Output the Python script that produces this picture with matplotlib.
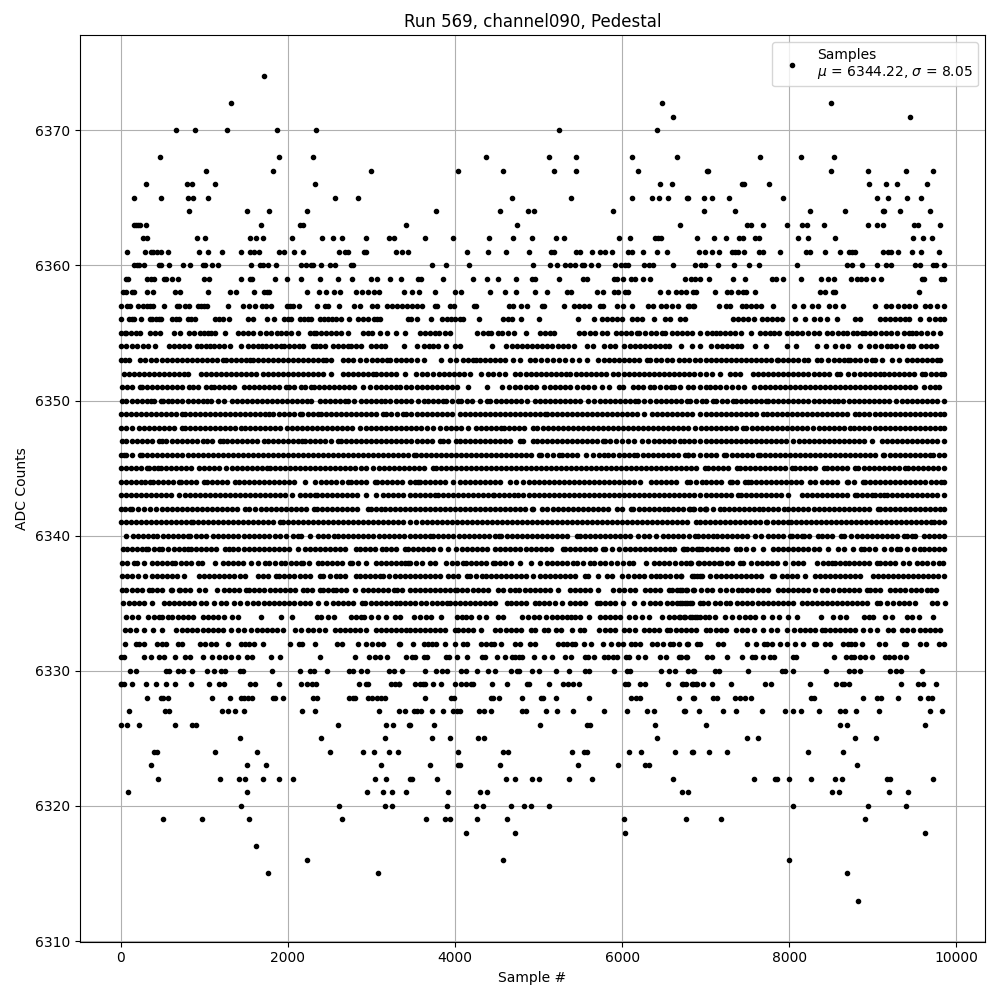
import matplotlib
matplotlib.use("Agg")
import matplotlib.pyplot as plt

# Sample numbers at each ADC level.
# Rows 6333-6356 are close to solid, so positions there are read about one dot apart.
s6374 = [1712]
s6372 = [1316, 6472, 8504]
s6371 = [6604, 9440]
s6370 = [668, 884, 1268, 1868, 2336, 5248, 6412]
s6368 = [476, 1892, 2300, 4372, 5128, 5452, 6124, 6652, 7652, 8144, 8540]
s6367 = [1016, 1820, 2996, 4036, 4576, 5188, 5452, 6196, 7016, 7028, 8504, 8948, 9392, 9716]
s6366 = [308, 788, 848, 1124, 2324, 6448, 6592, 7436, 7460, 7760, 8960, 9152, 9284, 9644]
s6365 = [164, 488, 800, 860, 1040, 2564, 2840, 4684, 5392, 6124, 6352, 6436, 6544, 6784, 6776, 6980, 7076, 7280, 7928, 9044, 9176, 9404, 9572]
s6364 = [812, 1508, 1772, 2228, 3772, 4540, 4876, 4948, 5896, 6980, 7352, 8252, 8672, 9116, 9128, 9320, 9680]
s6363 = [164, 188, 212, 236, 308, 1676, 2148, 2180, 3416, 4744, 6688, 7496, 7544, 7688, 7976, 8156, 8216, 8420, 8948, 9044, 9116, 9488, 9536, 9800]
s6362 = [272, 312, 908, 1004, 1544, 1616, 1700, 2048, 2408, 2540, 2648, 2936, 3212, 3268, 3640, 3976, 4408, 4696, 4924, 5212, 5308, 5968, 6100, 6388, 6424, 6460, 6892, 7100, 7244, 7400, 7448, 7592, 7640, 8108, 8228, 8552, 9476, 9596, 9704]
s6361 = [80, 296, 368, 392, 440, 488, 572, 932, 1040, 1208, 1436, 1544, 1592, 1652, 1892, 1952, 2072, 2180, 2612, 2684, 2720, 2912, 2936, 3296, 3368, 3436, 4144, 4396, 4612, 4888, 5152, 5188, 5452, 5500, 5644, 5740, 5800, 5884, 6076, 6124, 6244, 6412, 6532, 6916, 6992, 7076, 7160, 7316, 7352, 7388, 7460, 7640, 7688, 7892, 8204, 8252, 8432, 8612, 8720, 8756, 8792, 9116, 9176, 9212, 9296, 9464, 9572, 9788]
s6360 = [164, 200, 224, 284, 464, 488, 584, 752, 824, 980, 1012, 1088, 1160, 1556, 1664, 1700, 1760, 1856, 2156, 2216, 2276, 2300, 2396, 2504, 2564, 2756, 2780, 3724, 3892, 4168, 4936, 5140, 5224, 5320, 5380, 5440, 5524, 5548, 5632, 5716, 5920, 5992, 6040, 6076, 6256, 6316, 6364, 6604, 6868, 6944, 6992, 7148, 7340, 7520, 7640, 8096, 8696, 8756, 8876, 9044, 9152, 9212, 9500, 9560, 9716, 9752, 9848]
s6359 = [68, 92, 320, 360, 404, 524, 548, 620, 692, 992, 1052, 1436, 1544, 1576, 1844, 1988, 2156, 2384, 2600, 2768, 2996, 3068, 3224, 3356, 3556, 3592, 3856, 4216, 4384, 4516, 4732, 4924, 4960, 5248, 5536, 5584, 5908, 5944, 6016, 6112, 6160, 6244, 6328, 6748, 6820, 6868, 6932, 7040, 7328, 7472, 7796, 7844, 7928, 8144, 8384, 8468, 8540, 8744, 8816, 8864, 8924, 8996, 9092, 9584, 9608, 9812, 9856]
s6358 = [32, 60, 140, 164, 320, 392, 656, 716, 1040, 1304, 1376, 1592, 1712, 1748, 1772, 2228, 2372, 2456, 2552, 2624, 2816, 2888, 2960, 3032, 3092, 3392, 3484, 3568, 3760, 4000, 4072, 4420, 4600, 4732, 4960, 5104, 5344, 5392, 5704, 5776, 5908, 5956, 6040, 6076, 6448, 6544, 6640, 6700, 6760, 6844, 6880, 7112, 7256, 7304, 7388, 7448, 7484, 7592, 8372, 8432, 8528, 8552, 9548]
s6357 = [8, 80, 108, 212, 272, 320, 356, 392, 524, 680, 704, 764, 812, 920, 960, 996, 1028, 1280, 1460, 1532, 1604, 1688, 1736, 1796, 1988, 2028, 2060, 2132, 2348, 2440, 2480, 2612, 2792, 2864, 3008, 3068, 3188, 3248, 3308, 3368, 3428, 3484, 3544, 3604, 3760, 3784, 3940, 3988, 4228, 4252, 4648, 4696, 4792, 4864, 5044, 5068, 5308, 5428, 5488, 5548, 5608, 5740, 5776, 5944, 6016, 6124, 6304, 6364, 6460, 6520, 6592, 6664, 6784, 6856, 6800, 6848, 7160, 7244, 7292, 7436, 7484, 7544, 7604, 7664, 7808, 8060, 8168, 8276, 8348, 8480, 8552, 8648, 9020, 9152, 9212, 9296, 9368, 9428, 9500, 9620, 9680, 9764, 9848]
s6356 = [8, 100, 130, 160, 248, 348, 380, 428, 458, 488, 620, 660, 700, 800, 846, 892, 1132, 1176, 1220, 1292, 1520, 1580, 1748, 1832, 1960, 2000, 2040, 2140, 2190, 2240, 2280, 2380, 2430, 2480, 2530, 2580, 2640, 2732, 2840, 2900, 2960, 3032, 3066, 3100, 3440, 3476, 3544, 3712, 3844, 3900, 3950, 4000, 4056, 4096, 4288, 4576, 4630, 4684, 4788, 5008, 5476, 5668, 5756, 5816, 5876, 5936, 6004, 6124, 6180, 6236, 6376, 6516, 6576, 6696, 6756, 7328, 7390, 7450, 7510, 7576, 7668, 7730, 7790, 7850, 7908, 8068, 8184, 8300, 8370, 8448, 8568, 8788, 8848, 9080, 9140, 9200, 9260, 9320, 9380, 9428, 9560, 9668, 9748, 9800, 9850]
s6355 = [0, 48, 68, 128, 188, 228, 348, 408, 468, 640, 712, 812, 872, 948, 1000, 1040, 1080, 1132, 1244, 1400, 1460, 1520, 1588, 1668, 1740, 1800, 1872, 1920, 1980, 2040, 2120, 2260, 2308, 2340, 2400, 2460, 2520, 2580, 2640, 2720, 2900, 2960, 3012, 3100, 3188, 3300, 3400, 3584, 3640, 3700, 3760, 3808, 3876, 3944, 4264, 4336, 4396, 4436, 4516, 4568, 4636, 4704, 4852, 5016, 5080, 5140, 5188, 5488, 5550, 5610, 5670, 5756, 5816, 5928, 5990, 6050, 6110, 6176, 6208, 6270, 6340, 6410, 6476, 6516, 6596, 6656, 6720, 6780, 6840, 6928, 7016, 7070, 7128, 7176, 7228, 7288, 7350, 7420, 7548, 7648, 7708, 7770, 7820, 7876, 7968, 8030, 8090, 8150, 8220, 8296, 8360, 8448, 8510, 8580, 8640, 8688, 8760, 8810, 8868, 8908, 8970, 9030, 9100, 9160, 9216, 9290, 9368, 9428, 9468, 9520, 9580, 9650, 9716, 9800]
s6354 = [0, 60, 140, 200, 264, 328, 408, 580, 640, 700, 760, 820, 908, 960, 1020, 1070, 1120, 1180, 1240, 1308, 1436, 1520, 1580, 1640, 1692, 1740, 1800, 1860, 1920, 1952, 2020, 2080, 2130, 2180, 2300, 2340, 2380, 2440, 2540, 2600, 2660, 2724, 2760, 2820, 2880, 3000, 3060, 3110, 3160, 3396, 3544, 3628, 3688, 3740, 3800, 3888, 3996, 4056, 4444, 4616, 4680, 4740, 4800, 4860, 4920, 4980, 5040, 5100, 5156, 5236, 5296, 5356, 5428, 5576, 5656, 5784, 5850, 5916, 6024, 6090, 6150, 6210, 6270, 6330, 6390, 6450, 6510, 6556, 6704, 6840, 6936, 7068, 7130, 7190, 7250, 7310, 7370, 7428, 7592, 7720, 7968, 8084, 8336, 8440, 8548, 8636, 8708, 8852, 8960, 9028, 9100, 9168, 9216, 9280, 9350, 9428, 9476, 9576, 9640, 9700, 9760]
s6353 = [0, 50, 100, 228, 290, 360, 420, 500, 560, 612, 670, 730, 790, 850, 910, 970, 1030, 1090, 1150, 1220, 1260, 1320, 1380, 1440, 1500, 1548, 1580, 1640, 1700, 1760, 1820, 1880, 1940, 2000, 2060, 2120, 2180, 2240, 2300, 2360, 2420, 2452, 2512, 2660, 2720, 2780, 2868, 2936, 3008, 3070, 3130, 3190, 3228, 3300, 3360, 3420, 3480, 3540, 3624, 3832, 3936, 4016, 4096, 4156, 4210, 4256, 4296, 4360, 4420, 4480, 4540, 4604, 4696, 4776, 4896, 4960, 5030, 5096, 5176, 5240, 5316, 5404, 5484, 5584, 5716, 5780, 5840, 5900, 5960, 6020, 6080, 6140, 6200, 6296, 6336, 6400, 6470, 6536, 6596, 6676, 6736, 6800, 6870, 6936, 7000, 7060, 7120, 7180, 7240, 7300, 7360, 7420, 7480, 7540, 7600, 7660, 7720, 7780, 7848, 7868, 7930, 7990, 8050, 8110, 8176, 8228, 8328, 8376, 8468, 8530, 8590, 8650, 8708, 8728, 8790, 8850, 8920, 8988, 9028, 9108, 9228, 9310, 9408, 9468, 9530, 9590, 9650, 9710, 9770, 9808]
s6352 = [40, 100, 160, 220, 280, 340, 400, 460, 520, 580, 640, 700, 760, 800, 960, 1020, 1080, 1140, 1200, 1260, 1320, 1380, 1440, 1500, 1560, 1620, 1700, 1760, 1820, 1880, 1940, 2000, 2060, 2120, 2180, 2240, 2300, 2360, 2420, 2520, 2660, 2720, 2780, 2840, 2900, 2960, 3020, 3060, 3120, 3180, 3240, 3300, 3400, 3536, 3600, 3670, 3736, 3808, 3864, 3930, 3990, 4050, 4110, 4176, 4316, 4396, 4460, 4530, 4596, 4724, 4784, 4850, 4910, 4970, 5030, 5090, 5150, 5210, 5270, 5330, 5376, 5448, 5510, 5570, 5630, 5690, 5750, 5810, 5896, 5956, 6020, 6080, 6140, 6200, 6260, 6320, 6380, 6440, 6500, 6560, 6620, 6680, 6740, 6800, 6860, 6936, 7000, 7080, 7176, 7288, 7350, 7416, 7568, 7630, 7690, 7750, 7810, 7870, 7930, 7990, 8050, 8110, 8170, 8230, 8290, 8350, 8410, 8470, 8568, 8608, 8708, 8780, 8850, 8908, 8968, 9030, 9088, 9128, 9190, 9250, 9310, 9370, 9430, 9490, 9588, 9628, 9690, 9750, 9810, 9856]
s6351 = [20, 80, 140, 228, 260, 320, 380, 440, 500, 560, 620, 680, 740, 820, 860, 920, 1020, 1080, 1120, 1180, 1240, 1292, 1360, 1480, 1540, 1600, 1660, 1720, 1780, 1840, 1900, 1980, 2020, 2080, 2160, 2200, 2280, 2308, 2370, 2430, 2490, 2550, 2610, 2670, 2730, 2790, 2900, 2988, 3060, 3120, 3180, 3240, 3300, 3340, 3420, 3480, 3540, 3600, 3660, 3720, 3780, 3840, 3900, 3960, 4024, 4152, 4384, 4568, 4648, 4716, 4784, 4850, 4910, 4970, 5064, 5136, 5200, 5260, 5320, 5380, 5456, 5528, 5590, 5660, 5756, 5844, 5964, 6016, 6128, 6190, 6250, 6336, 6384, 6450, 6520, 6584, 6616, 6688, 6784, 6850, 6936, 7000, 7048, 7110, 7176, 7248, 7310, 7388, 7456, 7580, 7648, 7710, 7770, 7830, 7890, 7950, 8010, 8070, 8130, 8190, 8250, 8310, 8370, 8430, 8490, 8550, 8610, 8670, 8730, 8790, 8850, 8910, 8970, 9030, 9090, 9150, 9210, 9270, 9330, 9390, 9450, 9508, 9608, 9688, 9740, 9788]
s6350 = [12, 70, 130, 190, 250, 310, 360, 400, 480, 508, 570, 620, 680, 740, 800, 860, 920, 980, 1028, 1080, 1160, 1240, 1332, 1390, 1450, 1510, 1570, 1630, 1690, 1750, 1810, 1870, 1930, 1990, 2050, 2110, 2170, 2230, 2280, 2380, 2440, 2500, 2560, 2620, 2680, 2720, 2788, 2880, 2940, 3000, 3060, 3120, 3160, 3228, 3300, 3360, 3420, 3470, 3556, 3624, 3680, 3740, 3800, 3856, 3896, 3960, 4036, 4076, 4140, 4200, 4296, 4384, 4424, 4490, 4550, 4610, 4670, 4730, 4790, 4864, 4956, 5020, 5080, 5140, 5200, 5260, 5320, 5380, 5440, 5496, 5596, 5664, 5730, 5790, 5850, 5910, 5970, 6030, 6090, 6150, 6196, 6264, 6336, 6400, 6460, 6520, 6580, 6640, 6700, 6776, 6816, 6880, 6960, 7000, 7088, 7120, 7190, 7260, 7328, 7360, 7420, 7480, 7540, 7600, 7660, 7720, 7748, 7810, 7870, 7930, 7990, 8050, 8110, 8168, 8228, 8290, 8350, 8410, 8470, 8536, 8588, 8648, 8710, 8770, 8830, 8890, 8950, 9010, 9070, 9136, 9188, 9280, 9348, 9410, 9470, 9530, 9590, 9650, 9710, 9770, 9850]
s6349 = [0, 60, 120, 180, 240, 300, 360, 420, 480, 540, 600, 660, 730, 772, 830, 890, 950, 1010, 1070, 1130, 1190, 1250, 1310, 1370, 1430, 1490, 1550, 1610, 1670, 1730, 1780, 1828, 1890, 1950, 2010, 2070, 2140, 2172, 2240, 2300, 2360, 2400, 2460, 2520, 2580, 2640, 2700, 2760, 2820, 2880, 2940, 3000, 3060, 3140, 3172, 3240, 3310, 3380, 3420, 3480, 3540, 3600, 3660, 3720, 3780, 3840, 3900, 3960, 4064, 4116, 4180, 4240, 4300, 4360, 4420, 4480, 4540, 4600, 4660, 4720, 4780, 4840, 4900, 4960, 5020, 5076, 5096, 5160, 5220, 5280, 5340, 5400, 5460, 5520, 5580, 5640, 5700, 5760, 5820, 5880, 5940, 6000, 6060, 6120, 6180, 6256, 6356, 6420, 6480, 6540, 6600, 6660, 6720, 6780, 6840, 6936, 7000, 7060, 7120, 7180, 7240, 7300, 7360, 7420, 7480, 7540, 7600, 7688, 7728, 7790, 7850, 7910, 7970, 8030, 8090, 8150, 8210, 8270, 8330, 8390, 8450, 8510, 8570, 8630, 8690, 8788, 8836, 8900, 8960, 9020, 9080, 9140, 9200, 9260, 9320, 9380, 9440, 9500, 9560, 9620, 9680, 9740, 9800, 9856]
s6348 = [0, 60, 132, 220, 280, 340, 400, 460, 520, 580, 640, 740, 772, 830, 892, 948, 1010, 1070, 1130, 1190, 1250, 1310, 1370, 1440, 1484, 1548, 1610, 1670, 1730, 1790, 1850, 1910, 1988, 2052, 2110, 2170, 2230, 2290, 2350, 2410, 2470, 2530, 2590, 2650, 2710, 2770, 2860, 2932, 2990, 3050, 3110, 3170, 3230, 3290, 3350, 3410, 3470, 3530, 3590, 3664, 3736, 3824, 3890, 3950, 4010, 4070, 4156, 4248, 4310, 4370, 4430, 4490, 4556, 4584, 4650, 4710, 4770, 4830, 4936, 4984, 5050, 5110, 5170, 5230, 5290, 5350, 5410, 5470, 5530, 5590, 5650, 5710, 5770, 5830, 5890, 5950, 6010, 6070, 6130, 6190, 6250, 6310, 6370, 6430, 6490, 6550, 6610, 6670, 6730, 6790, 6876, 6940, 7000, 7060, 7120, 7180, 7240, 7308, 7368, 7448, 7488, 7550, 7610, 7670, 7728, 7788, 7850, 7910, 7970, 8030, 8088, 8148, 8208, 8288, 8350, 8410, 8470, 8530, 8590, 8650, 8728, 8776, 8840, 8900, 8960, 9020, 9080, 9140, 9200, 9260, 9320, 9380, 9440, 9500, 9560, 9620, 9680, 9740, 9800, 9856]
s6347 = [12, 70, 130, 190, 250, 310, 370, 460, 492, 548, 610, 670, 730, 790, 850, 910, 980, 1028, 1090, 1188, 1228, 1268, 1330, 1390, 1450, 1510, 1570, 1630, 1720, 1760, 1820, 1880, 1940, 2000, 2060, 2120, 2172, 2200, 2260, 2320, 2380, 2440, 2520, 2600, 2640, 2700, 2760, 2820, 2880, 2940, 3000, 3060, 3120, 3180, 3240, 3300, 3360, 3420, 3480, 3540, 3600, 3660, 3720, 3824, 3856, 3920, 4008, 4056, 4120, 4180, 4240, 4300, 4360, 4420, 4480, 4540, 4600, 4660, 4776, 4816, 4936, 4976, 5040, 5100, 5160, 5220, 5280, 5340, 5400, 5460, 5520, 5580, 5640, 5700, 5768, 5796, 5860, 5930, 5996, 6068, 6148, 6240, 6304, 6376, 6436, 6500, 6560, 6620, 6692, 6736, 6800, 6860, 6936, 7000, 7060, 7120, 7180, 7240, 7300, 7360, 7420, 7480, 7540, 7600, 7660, 7720, 7780, 7840, 7900, 7960, 8048, 8120, 8180, 8240, 8300, 8360, 8420, 8480, 8540, 8600, 8660, 8720, 8780, 8840, 8900, 8988, 9108, 9170, 9230, 9290, 9350, 9410, 9470, 9530, 9590, 9650, 9710, 9770, 9856]
s6346 = [0, 40, 68, 130, 228, 260, 320, 380, 440, 500, 560, 620, 680, 740, 800, 860, 920, 980, 1040, 1100, 1160, 1220, 1280, 1340, 1400, 1460, 1520, 1580, 1640, 1700, 1760, 1820, 1880, 1940, 2000, 2060, 2120, 2180, 2240, 2300, 2360, 2420, 2480, 2540, 2600, 2660, 2720, 2780, 2840, 2900, 2960, 3020, 3080, 3140, 3200, 3260, 3320, 3380, 3440, 3504, 3528, 3590, 3650, 3710, 3770, 3830, 3890, 3950, 4010, 4070, 4130, 4190, 4250, 4310, 4370, 4430, 4490, 4550, 4610, 4670, 4730, 4790, 4850, 4910, 5008, 5024, 5100, 5170, 5248, 5276, 5340, 5400, 5460, 5568, 5656, 5720, 5780, 5836, 5896, 5960, 6020, 6080, 6144, 6184, 6250, 6310, 6370, 6430, 6490, 6550, 6610, 6670, 6756, 6784, 6850, 6936, 6788, 7000, 7060, 7120, 7216, 7248, 7310, 7370, 7430, 7490, 7550, 7628, 7648, 7710, 7770, 7830, 7890, 7950, 8010, 8070, 8130, 8190, 8250, 8310, 8370, 8430, 8490, 8550, 8610, 8670, 8730, 8790, 8850, 8910, 8970, 9030, 9120, 9136, 9200, 9260, 9320, 9380, 9440, 9500, 9560, 9620, 9688, 9720, 9790, 9856]
s6345 = [0, 60, 120, 180, 240, 320, 340, 400, 452, 480, 540, 600, 660, 720, 780, 840, 940, 1000, 1060, 1120, 1180, 1260, 1332, 1390, 1450, 1510, 1570, 1630, 1690, 1748, 1788, 1850, 1910, 1970, 2030, 2090, 2150, 2210, 2270, 2330, 2390, 2450, 2510, 2570, 2630, 2690, 2750, 2810, 2870, 2930, 3020, 3092, 3150, 3210, 3270, 3330, 3390, 3450, 3510, 3570, 3630, 3736, 3768, 3830, 3890, 3950, 4010, 4070, 4130, 4190, 4250, 4310, 4370, 4430, 4490, 4550, 4610, 4670, 4730, 4790, 4850, 4910, 4970, 5030, 5090, 5150, 5210, 5270, 5330, 5390, 5450, 5510, 5570, 5630, 5690, 5750, 5810, 5870, 5930, 5990, 6050, 6110, 6170, 6230, 6290, 6350, 6410, 6470, 6530, 6590, 6650, 6710, 6770, 6830, 6890, 6988, 7028, 7090, 7150, 7210, 7270, 7376, 7408, 7470, 7530, 7590, 7650, 7710, 7770, 7830, 7890, 7950, 8028, 8068, 8130, 8190, 8250, 8310, 8416, 8448, 8510, 8570, 8630, 8690, 8788, 8828, 8890, 8950, 9010, 9070, 9130, 9190, 9250, 9310, 9388, 9416, 9480, 9540, 9600, 9660, 9720, 9780, 9850]
s6344 = [0, 60, 120, 180, 240, 292, 348, 388, 450, 510, 570, 630, 700, 720, 780, 840, 900, 1000, 1028, 1090, 1150, 1210, 1270, 1372, 1420, 1480, 1540, 1600, 1660, 1720, 1780, 1840, 1900, 1960, 2020, 2080, 2200, 2320, 2400, 2460, 2520, 2580, 2650, 2720, 2760, 2820, 2880, 2940, 3040, 3068, 3130, 3190, 3250, 3310, 3370, 3460, 3520, 3556, 3576, 3640, 3700, 3760, 3820, 3880, 3976, 4056, 4120, 4180, 4240, 4300, 4360, 4420, 4480, 4540, 4656, 4728, 4816, 4880, 4940, 5000, 5060, 5120, 5180, 5240, 5300, 5360, 5420, 5480, 5540, 5600, 5660, 5720, 5780, 5840, 5900, 5960, 6020, 6080, 6140, 6216, 6344, 6410, 6470, 6530, 6590, 6650, 6776, 6816, 6890, 6960, 7000, 7060, 7120, 7180, 7288, 7320, 7380, 7468, 7508, 7548, 7600, 7660, 7720, 7780, 7840, 7900, 7960, 8020, 8080, 8140, 8248, 8308, 8388, 8450, 8510, 8570, 8688, 8708, 8770, 8880, 8908, 8970, 9030, 9090, 9150, 9210, 9270, 9330, 9390, 9450, 9510, 9570, 9630, 9690, 9750, 9810, 9856]
s6343 = [0, 60, 120, 180, 240, 300, 360, 420, 480, 540, 600, 700, 772, 830, 890, 950, 1010, 1070, 1130, 1190, 1250, 1310, 1370, 1430, 1490, 1550, 1610, 1670, 1730, 1790, 1850, 1910, 1970, 2052, 2140, 2200, 2260, 2320, 2348, 2410, 2470, 2530, 2590, 2650, 2710, 2770, 2830, 2932, 3060, 3140, 3200, 3260, 3320, 3380, 3460, 3520, 3580, 3640, 3700, 3756, 3796, 3860, 3920, 3980, 4040, 4100, 4160, 4220, 4280, 4340, 4400, 4456, 4464, 4530, 4590, 4650, 4704, 4756, 4820, 4880, 4940, 5000, 5060, 5120, 5180, 5240, 5300, 5360, 5420, 5480, 5540, 5600, 5660, 5720, 5780, 5840, 5900, 5960, 6020, 6080, 6140, 6200, 6260, 6320, 6380, 6440, 6500, 6560, 6620, 6680, 6740, 6800, 6860, 6936, 7000, 7060, 7120, 7180, 7240, 7300, 7388, 7428, 7480, 7540, 7600, 7660, 7720, 7780, 7840, 7900, 7988, 8148, 8210, 8270, 8330, 8390, 8450, 8510, 8570, 8630, 8690, 8788, 8808, 8870, 8930, 8988, 9028, 9080, 9136, 9168, 9230, 9290, 9350, 9410, 9470, 9530, 9590, 9650, 9710, 9770, 9856]
s6342 = [0, 50, 108, 140, 210, 280, 356, 428, 490, 550, 610, 670, 730, 790, 850, 910, 970, 1030, 1090, 1150, 1210, 1270, 1330, 1390, 1492, 1540, 1610, 1680, 1740, 1800, 1860, 1920, 1980, 2040, 2100, 2160, 2220, 2308, 2348, 2410, 2470, 2530, 2590, 2650, 2710, 2770, 2830, 2960, 3000, 3060, 3120, 3160, 3220, 3280, 3340, 3400, 3460, 3520, 3580, 3640, 3700, 3760, 3820, 3880, 3940, 4000, 4060, 4120, 4180, 4240, 4300, 4360, 4420, 4480, 4540, 4600, 4660, 4720, 4780, 4840, 4916, 4936, 5036, 5104, 5170, 5230, 5290, 5350, 5410, 5470, 5530, 5590, 5650, 5710, 5770, 5830, 5936, 5996, 6104, 6136, 6200, 6260, 6320, 6380, 6440, 6496, 6544, 6610, 6670, 6730, 6816, 6856, 6936, 7000, 6800, 6848, 6988, 7008, 7090, 7176, 7216, 7280, 7340, 7400, 7460, 7520, 7580, 7640, 7688, 7748, 7810, 7870, 7936, 7988, 8050, 8110, 8170, 8230, 8290, 8350, 8410, 8470, 8530, 8590, 8650, 8710, 8770, 8830, 8890, 8950, 9056, 9080, 9140, 9200, 9260, 9320, 9380, 9440, 9500, 9560, 9620, 9680, 9740, 9800, 9856]
s6341 = [0, 60, 120, 180, 240, 300, 360, 420, 480, 540, 600, 660, 720, 780, 840, 860, 920, 980, 1040, 1100, 1160, 1220, 1280, 1340, 1400, 1460, 1520, 1580, 1640, 1700, 1760, 1820, 1908, 1940, 2000, 2060, 2120, 2180, 2240, 2300, 2360, 2420, 2480, 2540, 2600, 2660, 2720, 2780, 2840, 2900, 2960, 3020, 3080, 3140, 3200, 3260, 3320, 3380, 3464, 3536, 3600, 3660, 3720, 3780, 3840, 3900, 3960, 4020, 4080, 4140, 4200, 4260, 4320, 4380, 4440, 4500, 4560, 4620, 4680, 4740, 4800, 4860, 4920, 4980, 5040, 5100, 5160, 5220, 5280, 5340, 5400, 5460, 5520, 5580, 5640, 5700, 5760, 5820, 5880, 5940, 6000, 6060, 6120, 6180, 6240, 6300, 6360, 6420, 6480, 6540, 6600, 6660, 6720, 6780, 6888, 6928, 6990, 7050, 7110, 7170, 7230, 7290, 7350, 7410, 7470, 7530, 7590, 7650, 7720, 7736, 7800, 7860, 7920, 7988, 8016, 8080, 8140, 8200, 8260, 8320, 8380, 8440, 8500, 8560, 8620, 8680, 8740, 8800, 8860, 8920, 8980, 9040, 9100, 9160, 9220, 9280, 9340, 9400, 9460, 9520, 9580, 9640, 9696, 9728, 9790, 9856]
s6340 = [68, 148, 210, 270, 330, 390, 440, 508, 570, 630, 690, 750, 800, 828, 900, 960, 1020, 1108, 1170, 1230, 1290, 1350, 1410, 1470, 1530, 1590, 1650, 1710, 1770, 1848, 1908, 1980, 2060, 2120, 2160, 2260, 2360, 2420, 2480, 2548, 2600, 2660, 2720, 2780, 2840, 2900, 2960, 3020, 3088, 3150, 3210, 3270, 3330, 3390, 3460, 3520, 3580, 3640, 3696, 3736, 3800, 3860, 3920, 3976, 4048, 4110, 4170, 4230, 4290, 4350, 4410, 4476, 4524, 4556, 4620, 4680, 4740, 4800, 4860, 4920, 4980, 5040, 5100, 5160, 5220, 5280, 5340, 5456, 5496, 5560, 5620, 5680, 5740, 5800, 5860, 5920, 5980, 6040, 6096, 6196, 6260, 6320, 6408, 6484, 6544, 6610, 6670, 6730, 6800, 6876, 6908, 6970, 7030, 7088, 7136, 7200, 7260, 7320, 7380, 7440, 7500, 7588, 7660, 7748, 7808, 7870, 7930, 8008, 8028, 8090, 8148, 8176, 8240, 8348, 8388, 8450, 8510, 8616, 8656, 8736, 8808, 8870, 8930, 8990, 9050, 9110, 9170, 9230, 9290, 9376, 9408, 9470, 9508, 9608, 9670, 9730, 9790, 9856]
s6339 = [32, 80, 140, 200, 250, 300, 332, 400, 460, 500, 572, 640, 700, 760, 808, 840, 900, 960, 1020, 1080, 1140, 1252, 1292, 1350, 1410, 1470, 1530, 1590, 1650, 1710, 1770, 1830, 1890, 1950, 2010, 2120, 2200, 2268, 2330, 2390, 2450, 2510, 2570, 2630, 2690, 2812, 2860, 2920, 2980, 3040, 3132, 3180, 3240, 3300, 3400, 3440, 3500, 3560, 3620, 3680, 3740, 3816, 3916, 4016, 4080, 4140, 4200, 4260, 4320, 4380, 4476, 4536, 4600, 4660, 4720, 4780, 4856, 4904, 4970, 5030, 5090, 5150, 5288, 5316, 5380, 5440, 5500, 5560, 5620, 5680, 5768, 5796, 5876, 5968, 6030, 6090, 6150, 6210, 6270, 6330, 6390, 6450, 6510, 6576, 6616, 6736, 6836, 6916, 6728, 6780, 6896, 6960, 7020, 7080, 7140, 7200, 7260, 7368, 7408, 7488, 7568, 7680, 7808, 7870, 7930, 7990, 8050, 8110, 8170, 8230, 8290, 8350, 8468, 8588, 8650, 8768, 8856, 8896, 8960, 9020, 9136, 9216, 9288, 9328, 9408, 9488, 9568, 9608, 9670, 9730, 9790, 9856]
s6338 = [12, 80, 160, 200, 280, 372, 430, 490, 550, 620, 652, 720, 780, 840, 920, 972, 1124, 1220, 1280, 1340, 1400, 1460, 1560, 1640, 1724, 1780, 1850, 1920, 1972, 2040, 2100, 2160, 2180, 2250, 2360, 2408, 2470, 2530, 2590, 2650, 2740, 2772, 2840, 2940, 3052, 3110, 3170, 3230, 3290, 3350, 3400, 3440, 3464, 3530, 3600, 3696, 3756, 3896, 3960, 4020, 4096, 4128, 4190, 4250, 4310, 4370, 4456, 4476, 4540, 4600, 4676, 4776, 4904, 5016, 5096, 5160, 5220, 5280, 5340, 5416, 5456, 5536, 5616, 5664, 5736, 5796, 5864, 5944, 6008, 6088, 6136, 6288, 6376, 6440, 6500, 6560, 6628, 6700, 6768, 6824, 6916, 6816, 6908, 6976, 7040, 7100, 7160, 7188, 7250, 7310, 7408, 7448, 7548, 7610, 7670, 7730, 7790, 7850, 7948, 8048, 8110, 8168, 8328, 8400, 8468, 8508, 8548, 8610, 8668, 8720, 8780, 8840, 8900, 8960, 9048, 9088, 9150, 9210, 9270, 9360, 9428, 9528, 9588, 9650, 9720, 9788, 9840]
s6337 = [20, 80, 140, 212, 292, 380, 440, 500, 560, 620, 680, 760, 940, 1000, 1060, 1120, 1180, 1240, 1300, 1360, 1428, 1484, 1640, 1700, 1760, 1860, 1900, 1960, 2020, 2080, 2140, 2200, 2260, 2380, 2420, 2500, 2572, 2630, 2690, 2812, 2860, 2920, 2980, 3040, 3108, 3140, 3212, 3280, 3340, 3400, 3460, 3520, 3580, 3640, 3700, 3760, 3824, 3916, 3980, 4040, 4144, 4184, 4250, 4328, 4368, 4430, 4490, 4550, 4610, 4670, 4730, 4790, 4850, 4928, 5016, 5080, 5140, 5200, 5260, 5320, 5380, 5440, 5556, 5596, 5716, 5816, 5876, 5996, 6076, 6140, 6208, 6264, 6340, 6408, 6448, 6510, 6570, 6648, 6704, 6856, 6936, 6708, 6840, 6900, 6960, 7056, 7120, 7180, 7240, 7300, 7360, 7420, 7480, 7540, 7600, 7660, 7788, 7820, 7908, 7970, 8030, 8090, 8188, 8308, 8370, 8430, 8490, 8550, 8610, 8670, 8730, 8790, 8850, 9000, 9056, 9120, 9180, 9240, 9300, 9360, 9420, 9480, 9540, 9600, 9660, 9720, 9780, 9848]
s6336 = [12, 70, 130, 190, 250, 340, 380, 440, 500, 600, 620, 700, 708, 770, 830, 940, 1012, 1156, 1240, 1300, 1360, 1420, 1500, 1540, 1600, 1660, 1720, 1788, 1852, 1910, 1970, 2030, 2090, 2180, 2228, 2290, 2388, 2420, 2480, 2540, 2580, 2640, 2700, 2808, 2900, 2960, 3020, 3080, 3140, 3200, 3268, 3308, 3370, 3460, 3520, 3580, 3640, 3700, 3760, 3820, 3880, 3940, 3996, 4024, 4090, 4150, 4210, 4270, 4330, 4390, 4516, 4576, 4656, 4716, 4768, 4836, 4900, 4960, 5020, 5080, 5140, 5236, 5376, 5440, 5500, 5560, 5620, 5716, 5896, 5968, 6024, 6090, 6150, 6276, 6328, 6388, 6450, 6556, 6596, 6660, 6720, 6780, 6856, 6688, 6770, 6848, 6948, 7010, 7070, 7168, 7248, 7310, 7388, 7440, 7500, 7560, 7620, 7680, 7740, 7868, 7928, 7990, 8050, 8110, 8170, 8230, 8308, 8388, 8448, 8520, 8600, 8660, 8720, 8780, 8840, 8928, 8968, 9030, 9090, 9208, 9268, 9330, 9388, 9456, 9520, 9580, 9648, 9696, 9760]
s6335 = [28, 100, 160, 220, 280, 380, 520, 580, 640, 700, 760, 820, 880, 960, 1020, 1120, 1200, 1260, 1360, 1428, 1508, 1580, 1640, 1720, 1780, 1840, 1900, 1960, 2020, 2080, 2140, 2200, 2260, 2360, 2452, 2540, 2600, 2660, 2720, 2780, 2888, 2924, 3000, 3060, 3120, 3180, 3240, 3300, 3340, 3400, 3460, 3520, 3596, 3656, 3720, 3780, 3840, 3908, 3936, 4000, 4060, 4120, 4180, 4240, 4304, 4356, 4420, 4480, 4624, 4668, 4730, 4790, 4850, 4956, 5008, 5070, 5130, 5196, 5284, 5376, 5440, 5500, 5560, 5696, 5736, 5800, 5860, 5920, 6016, 6148, 6244, 6328, 6390, 6448, 6536, 6596, 6656, 6720, 6780, 6840, 6936, 6688, 6750, 6810, 6968, 7028, 7108, 7176, 7240, 7296, 7376, 7432, 7496, 7560, 7620, 7680, 7740, 7800, 7860, 7920, 7980, 8040, 8148, 8208, 8270, 8330, 8390, 8450, 8510, 8570, 8630, 8690, 8750, 8810, 8870, 8930, 9048, 9088, 9168, 9240, 9308, 9370, 9430, 9508, 9708, 9770, 9868]
s6334 = [60, 132, 212, 332, 400, 460, 500, 572, 620, 692, 750, 810, 868, 980, 1040, 1100, 1160, 1240, 1332, 1400, 1676, 1916, 2048, 2348, 2400, 2480, 2548, 2760, 2820, 2880, 2908, 2996, 3080, 3180, 3280, 3340, 3504, 3576, 3648, 3712, 3832, 4024, 4088, 4136, 4196, 4288, 4368, 4516, 4576, 4804, 4876, 4940, 5000, 5088, 5156, 5220, 5280, 5336, 5384, 5440, 5496, 5608, 5736, 5800, 5860, 5920, 5976, 6088, 6150, 6236, 6316, 6476, 6556, 6620, 6680, 6740, 6836, 6896, 6688, 6750, 6810, 6868, 6936, 6988, 7040, 7108, 7228, 7320, 7400, 7468, 7530, 7588, 7688, 7788, 7872, 7988, 8096, 8380, 8528, 8608, 8676, 8896, 8950, 9000, 9148, 9228, 9408, 9470, 9548, 9716]
s6333 = [52, 110, 180, 280, 388, 492, 660, 730, 790, 850, 908, 980, 1040, 1100, 1160, 1220, 1320, 1400, 1480, 1560, 1628, 1690, 1750, 1810, 1870, 1940, 2092, 2160, 2240, 2300, 2370, 2440, 2560, 2620, 2680, 2740, 2800, 2860, 2940, 3052, 3110, 3170, 3230, 3290, 3350, 3410, 3464, 3516, 3580, 3640, 3700, 3760, 3820, 3880, 3996, 4036, 4100, 4160, 4220, 4316, 4476, 4540, 4608, 4668, 4730, 4790, 4904, 4956, 5064, 5116, 5208, 5272, 5396, 5496, 5548, 5728, 5796, 5860, 5920, 6024, 6088, 6150, 6264, 6316, 6380, 6440, 6536, 6576, 6640, 6700, 6760, 6820, 6880, 7000, 7048, 7128, 7188, 7248, 7368, 7430, 7490, 7576, 7688, 7776, 7856, 7976, 8056, 8128, 8190, 8250, 8310, 8388, 8428, 8490, 8550, 8610, 8670, 8730, 8790, 8888, 8968, 9048, 9176, 9240, 9348, 9408, 9480, 9560, 9620, 9680, 9740, 9808]
s6332 = [56, 188, 220, 284, 440, 500, 548, 692, 740, 944, 1004, 1076, 1136, 1280, 1436, 1484, 1532, 1592, 1700, 2024, 2132, 2168, 2324, 2588, 2648, 2840, 2936, 3008, 3080, 3140, 3332, 3340, 3496, 3628, 3676, 3724, 3772, 3880, 4000, 4096, 4144, 4312, 4372, 4432, 4468, 4552, 4720, 4780, 4900, 4960, 5236, 5296, 5344, 5404, 5440, 5548, 5632, 5776, 5872, 5956, 6016, 6112, 6160, 6220, 6352, 6412, 6484, 6568, 6604, 6676, 6784, 6892, 6776, 6932, 7148, 7208, 7496, 7604, 7700, 7736, 7796, 7892, 7976, 8064, 8168, 8300, 8324, 8432, 8492, 8648, 8708, 8744, 8792, 8876, 9068, 9140, 9368, 9392, 9560, 9632, 9788, 9856]
s6331 = [8, 44, 284, 368, 464, 524, 656, 764, 824, 980, 1088, 1172, 1244, 1316, 1400, 1508, 1568, 1796, 1904, 2384, 2804, 2972, 3044, 3104, 3188, 3416, 3484, 3520, 3628, 3664, 3892, 3928, 4024, 4144, 4324, 4360, 4500, 4600, 4684, 4720, 4768, 4804, 4948, 5068, 5164, 5320, 5392, 5560, 5596, 5668, 5788, 5836, 5896, 5936, 6052, 6088, 6196, 6268, 6448, 6520, 6676, 6700, 6772, 6764, 7016, 7076, 7256, 7436, 7556, 7592, 7688, 7772, 7820, 8048, 8084, 8540, 8684, 8744, 8780, 8852, 8912, 8984, 9140, 9188, 9248, 9320, 9392]
s6330 = [116, 188, 548, 584, 692, 752, 848, 1028, 1112, 1196, 1244, 1424, 1460, 1808, 2140, 2264, 2312, 2468, 2732, 2780, 2876, 2948, 3212, 3272, 3368, 3640, 3772, 3844, 3904, 4072, 4132, 4264, 4396, 4480, 4672, 4744, 4768, 4924, 5008, 5212, 5368, 5560, 5608, 5908, 6064, 6100, 6460, 6556, 6628, 6784, 6856, 6848, 7112, 7160, 7508, 7916, 7952, 8048, 8444, 8720, 8780, 8852, 9200, 9272, 9332, 9584]
s6329 = [0, 10, 40, 140, 308, 428, 548, 656, 836, 1052, 1172, 1232, 1544, 1604, 1892, 2156, 2228, 2288, 2336, 2852, 2936, 2960, 3236, 3284, 3332, 3328, 3520, 3580, 3616, 3640, 3736, 3832, 4000, 4072, 4132, 4192, 4216, 4444, 4624, 4864, 4888, 5128, 5296, 5356, 5416, 5488, 6040, 6076, 6220, 6268, 6544, 6724, 6760, 6844, 6892, 6716, 6836, 6884, 6968, 7076, 7304, 7712, 7784, 8252, 8564, 8636, 8660, 8720, 9332, 9536, 9596, 9752]
s6328 = [320, 488, 512, 572, 1088, 1304, 1436, 1472, 1520, 1568, 1820, 1844, 1940, 2300, 2348, 2732, 2780, 2804, 2960, 3008, 3068, 3116, 3164, 3640, 3952, 3988, 4432, 4456, 4528, 4804, 5032, 5056, 5212, 5608, 6112, 6172, 6220, 6676, 6856, 6848, 7088, 7136, 7352, 7412, 7472, 7544, 8264, 8300, 8888, 9044, 9092, 9296, 9560, 9656, 9704]
s6327 = [104, 536, 584, 1208, 1280, 1364, 1472, 2168, 2324, 3092, 3332, 3404, 3508, 3544, 3592, 3724, 3856, 3976, 4024, 4060, 4288, 4348, 4432, 4804, 4852, 5092, 5224, 5416, 5788, 6064, 6292, 6376, 6748, 6916, 6740, 7208, 7364, 7676, 7952, 8048, 8144, 8360, 8612, 8672, 8804, 9068, 9680, 9824]
s6326 = [8, 80, 224, 656, 848, 896, 2600, 3176, 3260, 3452, 3460, 3748, 5020, 5584, 5620, 6388, 7004, 8612, 8696, 9620]
s6325 = [1424, 2396, 3164, 3724, 3940, 4276, 4348, 6412, 7496, 7628, 8792, 9032]
s6324 = [404, 440, 1124, 1628, 2504, 2900, 3032, 3212, 3320, 4036, 4576, 4636, 5404, 5548, 5584, 6088, 6232, 6628, 6844, 6836, 7040, 7256, 8228, 8648]
s6323 = [368, 1508, 1736, 3116, 3700, 4036, 4060, 4540, 5476, 5956, 6268, 6316, 8816]
s6322 = [452, 1184, 1412, 1484, 1700, 1892, 2060, 3044, 3176, 3464, 3484, 3784, 4612, 4720, 4924, 5008, 5368, 5644, 6604, 7580, 7832, 7856, 8000, 8264, 8552, 8636, 9164, 9200, 9716]
s6321 = [92, 1508, 2948, 3140, 3248, 3416, 3916, 4300, 4384, 6712, 6784, 8516, 8600, 9188, 9416]
s6320 = [1436, 2612, 3164, 3248, 3904, 4252, 4336, 4672, 4828, 4912, 5128, 8048, 8948, 9392]
s6319 = [512, 968, 1532, 2648, 3652, 3880, 3940, 4264, 4624, 6028, 6760, 7184, 8912]
s6318 = [4132, 4720, 6040, 9620]
s6317 = [1616]
s6316 = [2228, 4576, 8000]
s6315 = [1760, 3080, 8696]
s6313 = [8828]

rows = {
    6374: s6374, 6372: s6372, 6371: s6371, 6370: s6370, 6368: s6368, 6367: s6367,
    6366: s6366, 6365: s6365, 6364: s6364, 6363: s6363, 6362: s6362, 6361: s6361,
    6360: s6360, 6359: s6359, 6358: s6358, 6357: s6357, 6356: s6356, 6355: s6355,
    6354: s6354, 6353: s6353, 6352: s6352, 6351: s6351, 6350: s6350, 6349: s6349,
    6348: s6348, 6347: s6347, 6346: s6346, 6345: s6345, 6344: s6344, 6343: s6343,
    6342: s6342, 6341: s6341, 6340: s6340, 6339: s6339, 6338: s6338, 6337: s6337,
    6336: s6336, 6335: s6335, 6334: s6334, 6333: s6333, 6332: s6332, 6331: s6331,
    6330: s6330, 6329: s6329, 6328: s6328, 6327: s6327, 6326: s6326, 6325: s6325,
    6324: s6324, 6323: s6323, 6322: s6322, 6321: s6321, 6320: s6320, 6319: s6319,
    6318: s6318, 6317: s6317, 6316: s6316, 6315: s6315, 6313: s6313,
}

samples = []
counts = []
for level, xs in rows.items():
    samples.extend(xs)
    counts.extend([level] * len(xs))

fig, ax = plt.subplots(figsize=(10, 10))
ax.plot(samples, counts, 'k.', label='Samples\n$\\mu$ = 6344.22, $\\sigma$ = 8.05')
ax.set_xlim(-492, 10342)
ax.set_title('Run 569, channel090, Pedestal')
ax.set_xlabel('Sample #')
ax.set_ylabel('ADC Counts')
ax.grid(True)
ax.legend(loc='upper right')
plt.tight_layout()
fig.subplots_adjust(top=0.965)
plt.savefig('out.png', dpi=100)
